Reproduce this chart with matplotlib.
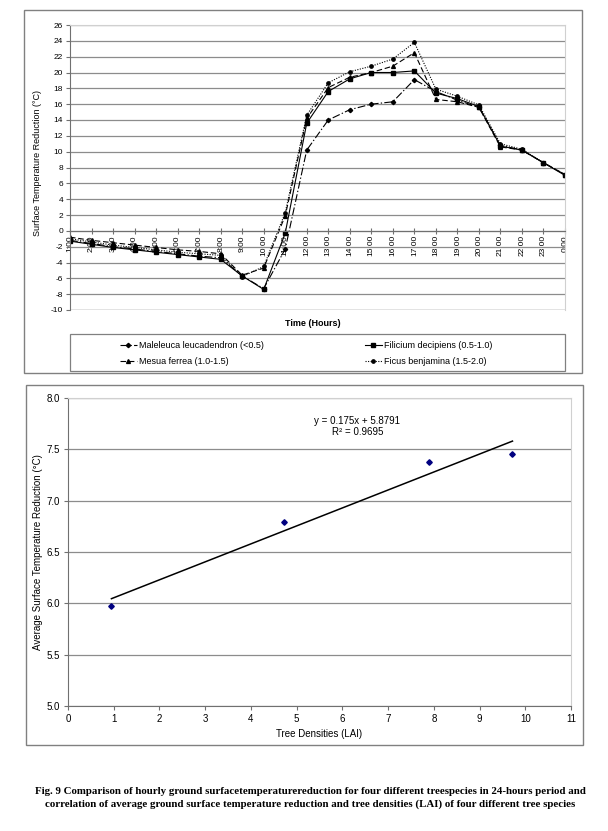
import matplotlib
matplotlib.use('Agg')
import matplotlib.pyplot as plt
from matplotlib.patches import Rectangle
from matplotlib.lines import Line2D
import numpy as np

plt.rcParams['font.family'] = ['Liberation Sans', 'DejaVu Sans']
plt.rcParams['axes.unicode_minus'] = False

###############################################################
# data - hourly surface temperature reduction (deg C)
###############################################################
hours = ['1:00', '2:00', '3:00', '4:00', '5:00', '6:00', '7:00', '8:00',
         '9:00', '10:00', '11:00', '12:00', '13:00', '14:00', '15:00', '16:00',
         '17:00', '18:00', '19:00', '20:00', '21:00', '22:00', '23:00', '0:00']
maleleuca = [-1.2, -1.6, -2.0, -2.3, -2.6, -2.9, -3.2, -3.4, -5.7, -7.3, -2.3, 10.2,
             14.0, 15.3, 16.0, 16.3, 19.1, 17.6, 16.5, 15.6, 10.8, 10.2, 8.6, 7.1]
filicium = [-1.3, -1.7, -2.1, -2.4, -2.7, -3.0, -3.3, -3.6, -5.7, -7.4, -0.3, 13.6,
            17.6, 19.2, 20.0, 20.0, 20.2, 17.4, 16.7, 15.7, 10.7, 10.2, 8.6, 7.0]
mesua = [-0.8, -1.2, -1.5, -1.8, -2.1, -2.4, -2.6, -2.9, -5.6, -4.7, 1.9, 14.2,
         18.1, 19.4, 20.0, 20.8, 22.5, 16.6, 16.3, 15.6, 10.6, 10.2, 8.6, 7.1]
ficus = [-1.0, -1.4, -1.8, -2.1, -2.4, -2.7, -2.9, -3.1, -5.8, -4.5, 2.3, 14.6,
         18.7, 20.1, 20.8, 21.7, 23.8, 17.9, 17.0, 15.9, 11.0, 10.3, 8.6, 7.1]

series_labels = ['Maleleuca leucadendron (<0.5)', 'Filicium decipiens (0.5-1.0)',
                 'Mesua ferrea (1.0-1.5)', 'Ficus benjamina (1.5-2.0)']

# correlation with LAI
lai = [0.95, 4.73, 7.9, 9.72]
avg_reduction = [5.97, 6.79, 7.38, 7.45]
slope = 0.175
intercept = 5.8791
r2 = 0.9695

caption1 = ('Fig. 9 Comparison of hourly ground surfacetemperaturereduction for four '
            'different treespecies in 24-hours period and')
caption2 = ('correlation of average ground surface temperature reduction and tree '
            'densities (LAI) of four different tree species')

###############################################################
# figure, pixel helpers
###############################################################
W, H = 608, 831
fig = plt.figure(figsize=(W / 100, H / 100), dpi=100)


def box(x0, y0, x1, y1):
    # pixel box (top-left origin) -> figure fraction rect
    return [x0 / W, 1 - y1 / H, (x1 - x0) / W, (y1 - y0) / H]


grid_c = '#8c8c8c'
axis_c = '#707070'
frame_c = '#808080'

# outer chart frames
for (x0, y0, x1, y1) in [(24, 10, 582, 373), (26, 385, 583, 745)]:
    b = box(x0, y0, x1, y1)
    fig.patches.append(Rectangle((b[0], b[1]), b[2], b[3], transform=fig.transFigure,
                                 fill=False, edgecolor=frame_c, linewidth=1.0))

##################################################
# plot 0 - hourly reduction
##################################################
ax = fig.add_axes(box(70, 25, 565, 310))
# category axis crosses at 0 (set before the tick labels, it resets them)
ax.spines['bottom'].set_position(('data', 0))
x = np.arange(len(hours))
lw = 0.8
ax.plot(x, maleleuca, color='black', lw=lw, ls=(0, (7, 2, 1.2, 2)), marker='D', ms=2.2)
ax.plot(x, filicium, color='black', lw=lw, ls='-', marker='s', ms=2.4)
ax.plot(x, mesua, color='black', lw=lw, ls=(0, (5, 2.5)), marker='^', ms=2.8)
ax.plot(x, ficus, color='black', lw=lw, ls=(0, (1, 1.3)), marker='o', ms=2.4)

ax.set_xlim(0, len(hours) - 1)
ax.set_ylim(-10, 26)
ax.set_yticks(np.arange(-10, 27, 2))
ax.set_xticks(x)
ax.set_xticklabels(hours)
ax.yaxis.grid(True, color=grid_c, linewidth=0.9)
ax.set_axisbelow(True)
ax.spines['bottom'].set_color(axis_c)
ax.spines['left'].set_color(axis_c)
ax.spines['top'].set_color('#d0d0d0')
ax.spines['right'].set_color('#d0d0d0')
ax.tick_params(axis='x', direction='inout', length=4, color=axis_c, pad=1,
               labelrotation=90, labelsize=6)
ax.tick_params(axis='y', direction='out', length=3, color=axis_c, labelsize=6, pad=2)
ax.axhline(-10, color=grid_c, lw=0.9)

fig.text(38 / W, 1 - 163 / H, 'Surface Temperature Reduction (°C)', rotation=90,
         ha='center', va='center', fontsize=6.5)
fig.text(313 / W, 1 - 323 / H, 'Time (Hours)', ha='center', va='center',
         fontsize=6.5, fontweight='bold')

# legend
lb = box(70, 334, 565, 371)
fig.patches.append(Rectangle((lb[0], lb[1]), lb[2], lb[3], transform=fig.transFigure,
                             fill=False, edgecolor=frame_c, linewidth=0.9))
handles = [Line2D([], [], color='black', lw=lw, ls=(0, (7, 2, 1.2, 2)), marker='D', ms=2.2),
           Line2D([], [], color='black', lw=lw, ls='-', marker='s', ms=2.4),
           Line2D([], [], color='black', lw=lw, ls=(0, (5, 2.5)), marker='^', ms=2.8),
           Line2D([], [], color='black', lw=lw, ls=(0, (1, 1.3)), marker='o', ms=2.4)]
order = [0, 2, 1, 3]
fig.legend([handles[i] for i in order], [series_labels[i] for i in order],
           loc='upper left', bbox_to_anchor=(114 / W, 1 - 335 / H), ncol=2,
           frameon=False, fontsize=6.5, handlelength=1.8, handletextpad=0.3,
           columnspacing=11.2, labelspacing=0.75, borderpad=0.2)

##################################################
# plot 1 - correlation with LAI
##################################################
ax2 = fig.add_axes(box(68, 398, 571, 706))
ax2.plot(lai, avg_reduction, ls='none', marker='D', ms=2.8, color='#000080')
xf = np.array([min(lai), max(lai)])
ax2.plot(xf, slope * xf + intercept, color='black', lw=1.1)
ax2.set_xlim(0, 11)
ax2.set_ylim(5, 8)
ax2.set_xticks(np.arange(0, 12, 1))
ax2.set_yticks(np.arange(5, 8.01, 0.5))
ax2.set_yticklabels(['%.1f' % v for v in np.arange(5, 8.01, 0.5)])
ax2.yaxis.grid(True, color=grid_c, linewidth=0.9)
ax2.set_axisbelow(True)
for s in ['left', 'bottom']:
    ax2.spines[s].set_color(axis_c)
for s in ['top', 'right']:
    ax2.spines[s].set_color('#d0d0d0')
ax2.tick_params(direction='out', length=3, color=axis_c, labelsize=7, pad=3)
ax2.text(6.33, 7.82, 'y = %gx + %g\nR² = %g' % (slope, intercept, r2),
         ha='center', va='top', fontsize=7, linespacing=1.1)
fig.text(38 / W, 1 - 552 / H, 'Average Surface Temperature Reduction (°C)',
         rotation=90, ha='center', va='center', fontsize=7)
fig.text(319 / W, 1 - 734 / H, 'Tree Densities (LAI)', ha='center', va='center',
         fontsize=7)

##################################################
# caption
##################################################
fig.text(310 / W, 1 - 792 / H, caption1, ha='center', va='center', fontsize=7.8,
         fontweight='bold', family='Liberation Serif')
fig.text(310 / W, 1 - 804 / H, caption2, ha='center', va='center', fontsize=7.8,
         fontweight='bold', family='Liberation Serif')

fig.savefig('out.png', dpi=100)
